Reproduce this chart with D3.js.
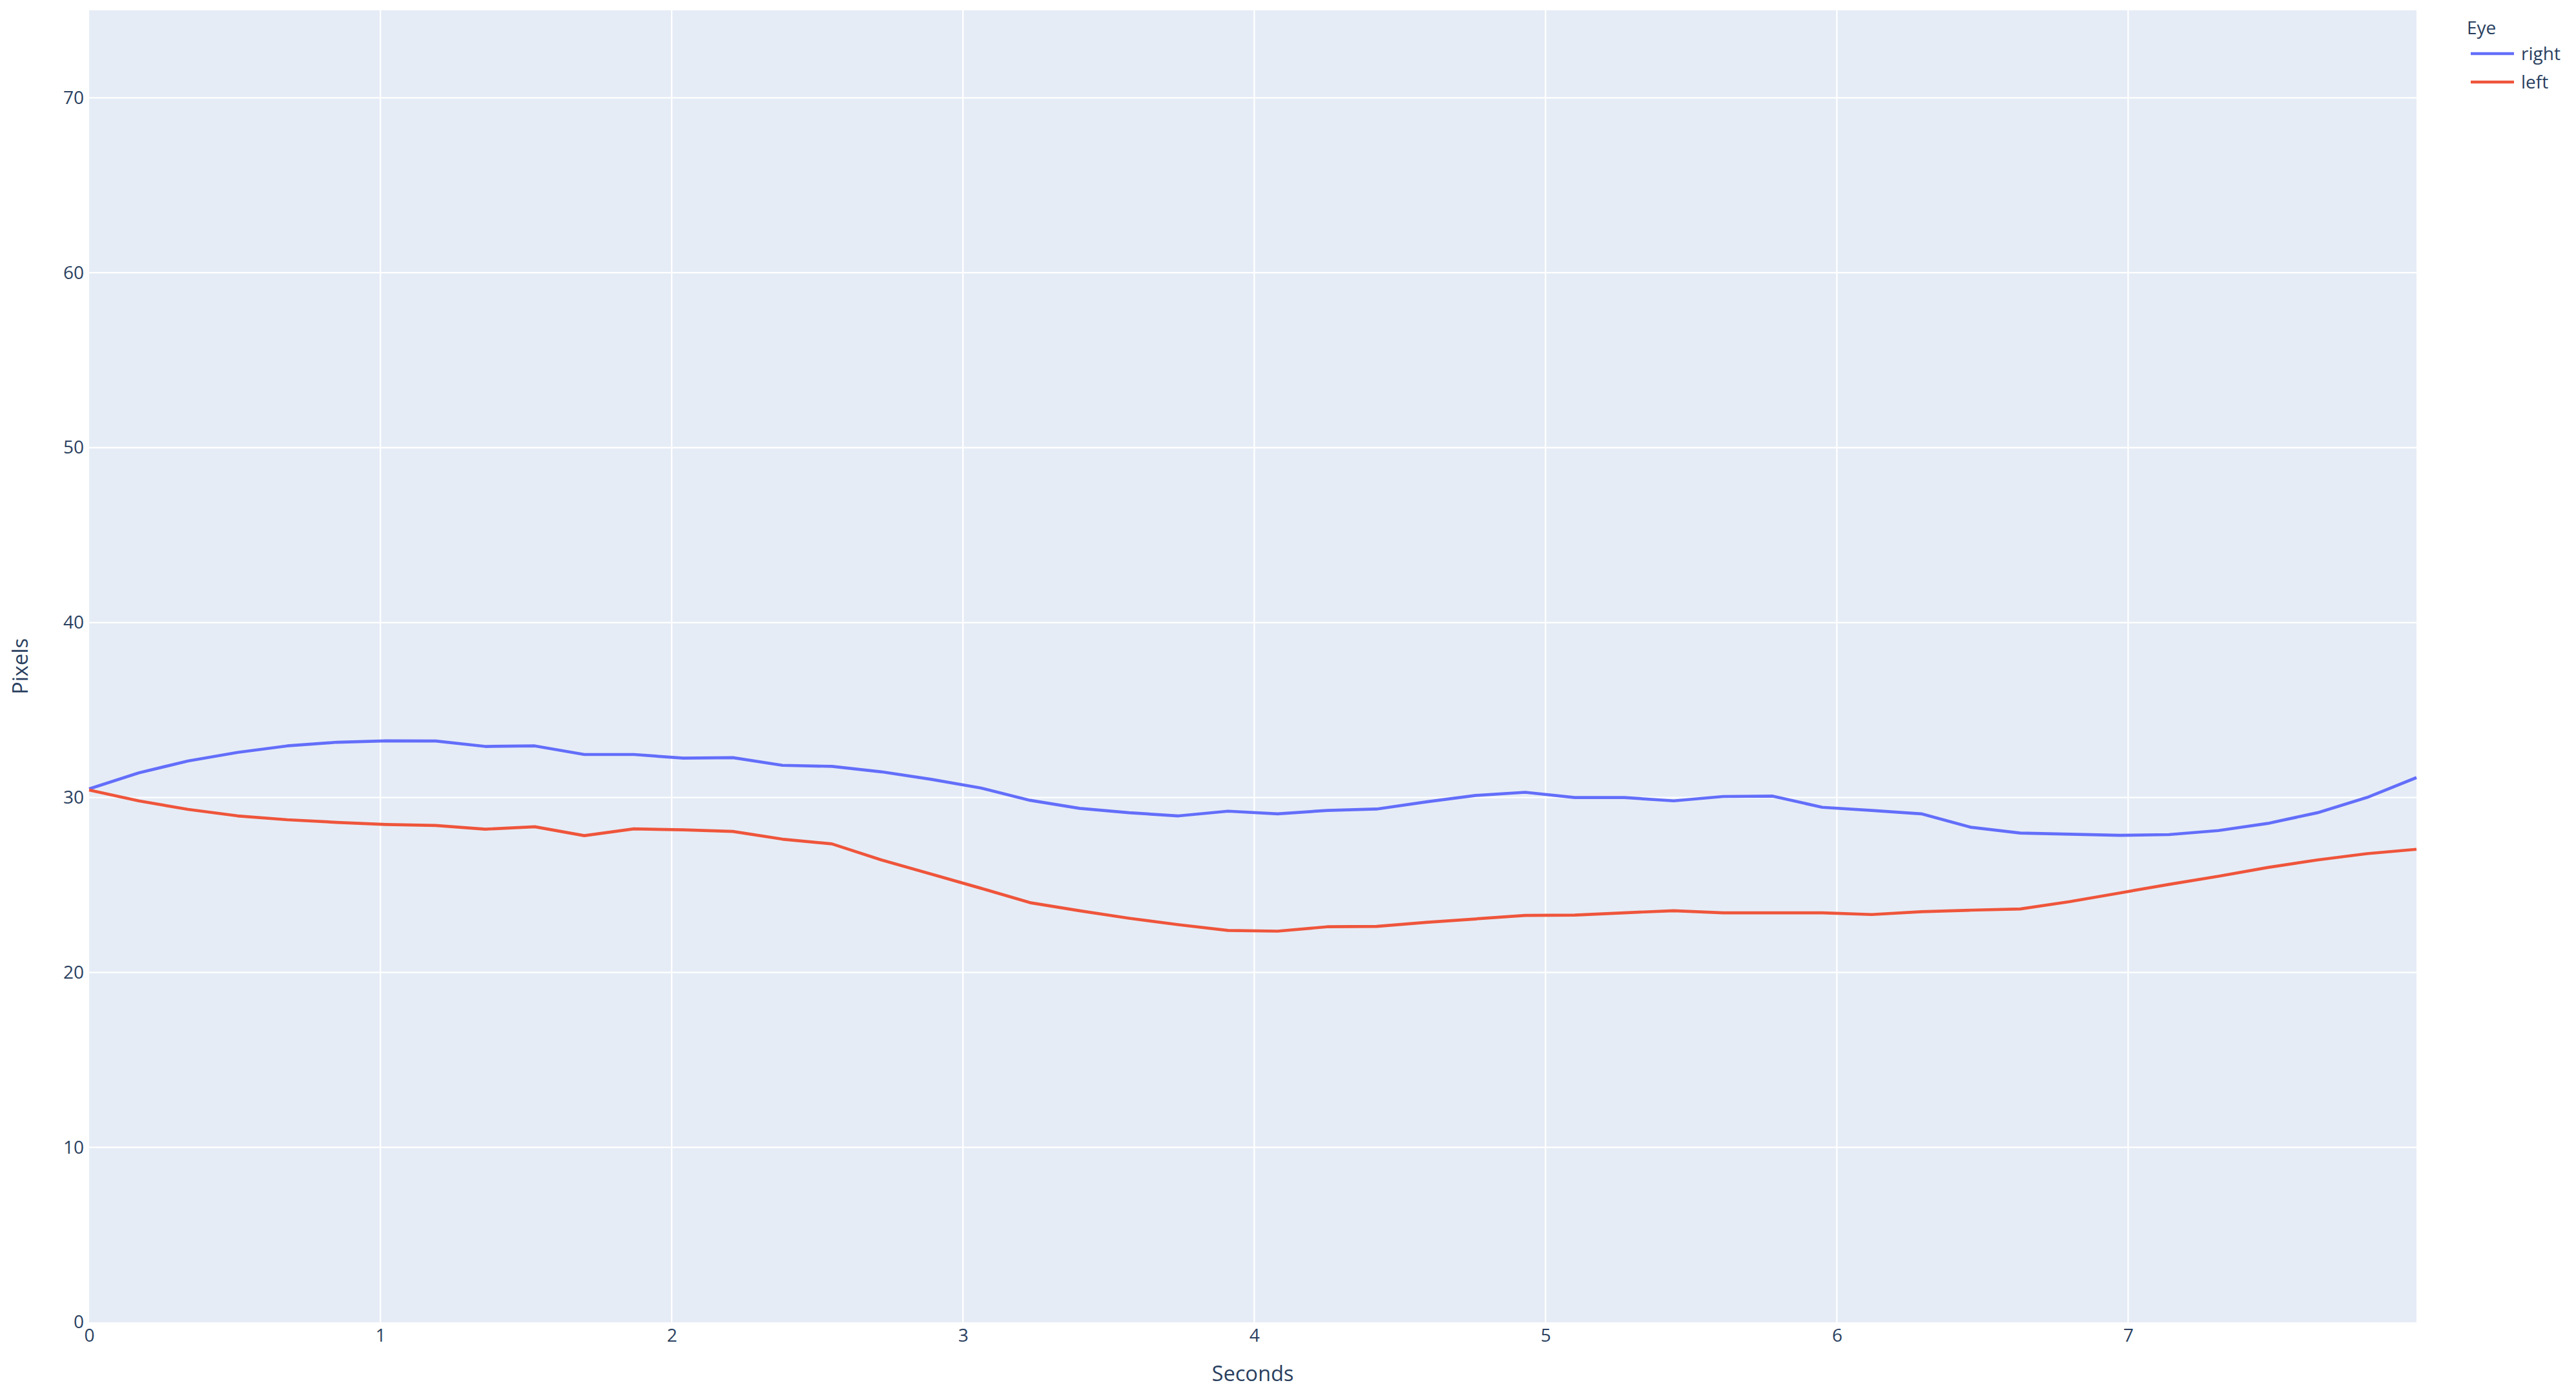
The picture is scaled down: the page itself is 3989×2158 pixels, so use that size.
<!DOCTYPE html>
<html>
<head>
<meta charset="utf-8">
<script src="https://cdn.jsdelivr.net/npm/d3@7"></script>
<style>
  html, body { margin: 0; padding: 0; background: #fff; }
  svg { display: block; font-family: "Open Sans", verdana, arial, sans-serif; }
</style>
</head>
<body>
<svg id="chart" width="3989" height="2158"></svg>
<script>
// ---- data ----
const seconds = [0, 0.17, 0.34, 0.51, 0.68, 0.85, 1.02, 1.19, 1.36, 1.53, 1.70, 1.87, 2.04, 2.21, 2.38, 2.55,
  2.72, 2.89, 3.06, 3.23, 3.40, 3.57, 3.74, 3.91, 4.08, 4.25, 4.42, 4.59, 4.76, 4.93, 5.10, 5.27,
  5.44, 5.61, 5.78, 5.95, 6.12, 6.29, 6.46, 6.63, 6.80, 6.97, 7.14, 7.31, 7.48, 7.65, 7.82, 7.99];
const rightEye = [30.49, 31.41, 32.09, 32.58, 32.95, 33.16, 33.24, 33.23, 32.92, 32.95, 32.46, 32.46, 32.25, 32.28, 31.84, 31.78,
  31.47, 31.04, 30.55, 29.84, 29.38, 29.13, 28.95, 29.22, 29.07, 29.26, 29.34, 29.75, 30.12, 30.30, 30.00, 30.00,
  29.81, 30.06, 30.08, 29.44, 29.26, 29.07, 28.30, 27.97, 27.90, 27.84, 27.88, 28.11, 28.52, 29.13, 30.00, 31.14];
const leftEye = [30.43, 29.81, 29.32, 28.95, 28.73, 28.58, 28.46, 28.40, 28.19, 28.33, 27.82, 28.21, 28.15, 28.06, 27.62, 27.35,
  26.43, 25.63, 24.82, 23.99, 23.53, 23.10, 22.73, 22.40, 22.36, 22.61, 22.63, 22.86, 23.06, 23.26, 23.28, 23.41,
  23.53, 23.41, 23.41, 23.41, 23.31, 23.47, 23.56, 23.63, 24.05, 24.54, 25.03, 25.50, 26.00, 26.43, 26.79, 27.04];
const seriesNames = ["right", "left"];
const xTicks = [0, 1, 2, 3, 4, 5, 6, 7];
const yTicks = [0, 10, 20, 30, 40, 50, 60, 70];
const xTitle = "Seconds";
const yTitle = "Pixels";
const legendTitle = "Eye";

// ---- layout ----
const M = { left: 138, right: 3742, top: 16, bottom: 2047 };
const colors = ["#636efa", "#EF553B"];
const textColor = "#2a3f5f";

const svg = d3.select("#chart");
const x = d3.scaleLinear().domain([0, 7.99]).range([M.left, M.right]);
const y = d3.scaleLinear().domain([0, 75]).range([M.bottom, M.top]);

svg.append("rect").attr("x", M.left).attr("y", M.top)
  .attr("width", M.right - M.left).attr("height", M.bottom - M.top).attr("fill", "#E5ECF6");

// grid
svg.append("g").selectAll("line").data(xTicks.filter(d => d > 0)).join("line")
  .attr("x1", d => x(d)).attr("x2", d => x(d)).attr("y1", M.top).attr("y2", M.bottom)
  .attr("stroke", "#fff").attr("stroke-width", 2.3);
svg.append("g").selectAll("line").data(yTicks.filter(d => d > 0)).join("line")
  .attr("y1", d => y(d)).attr("y2", d => y(d)).attr("x1", M.left).attr("x2", M.right)
  .attr("stroke", "#fff").attr("stroke-width", 2.3);

// axes
const xAxis = svg.append("g").attr("transform", `translate(0,${M.bottom})`)
  .call(d3.axisBottom(x).tickValues(xTicks).tickSize(0).tickPadding(10).tickFormat(d3.format("d")));
const yAxis = svg.append("g").attr("transform", `translate(${M.left},0)`)
  .call(d3.axisLeft(y).tickValues(yTicks).tickSize(0).tickPadding(8).tickFormat(d3.format("d")));
[xAxis, yAxis].forEach(a => {
  a.select(".domain").remove();
  a.selectAll("text").attr("font-size", 28).attr("fill", textColor)
    .attr("font-family", '"Open Sans", verdana, arial, sans-serif');
});

// lines
const series = [rightEye, leftEye];
const line = d3.line().x((d, i) => x(seconds[i])).y(d => y(d));
svg.append("g").selectAll("path").data(series).join("path")
  .attr("d", d => line(d)).attr("fill", "none")
  .attr("stroke", (d, i) => colors[i]).attr("stroke-width", 4.7)
  .attr("stroke-linejoin", "round");

// axis titles
svg.append("text").attr("x", (M.left + M.right) / 2).attr("y", 2138)
  .attr("text-anchor", "middle").attr("font-size", 32.6).attr("fill", textColor).text(xTitle);
svg.append("text").attr("transform", `translate(43,${(M.top + M.bottom) / 2}) rotate(-90)`)
  .attr("text-anchor", "middle").attr("font-size", 32.6).attr("fill", textColor).text(yTitle);

// legend
const lg = svg.append("g");
lg.append("text").attr("x", 3820).attr("y", 53).attr("font-size", 28).attr("fill", textColor).text(legendTitle);
const items = lg.selectAll("g.item").data(seriesNames).join("g").attr("class", "item")
  .attr("transform", (d, i) => `translate(0,${83 + i * 44})`);
items.append("line").attr("x1", 3826).attr("x2", 3893).attr("y1", 0).attr("y2", 0)
  .attr("stroke", (d, i) => colors[i]).attr("stroke-width", 4.7);
items.append("text").attr("x", 3904).attr("y", 10).attr("font-size", 28).attr("fill", textColor).text(d => d);
</script>
</body>
</html>
